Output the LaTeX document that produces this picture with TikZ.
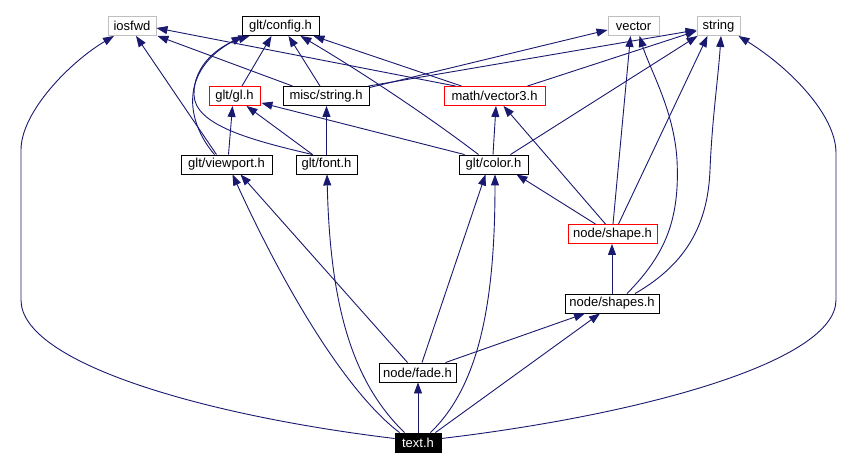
\documentclass[tikz,border=0pt]{standalone}
\usepackage{fontspec}
\setmainfont{Liberation Sans}
\usetikzlibrary{arrows.meta,calc}
\definecolor{edgeblue}{HTML}{191970}
\definecolor{grayline}{HTML}{BFBFBF}
\begin{document}
\begin{tikzpicture}[x=1pt,y=-1pt,
  fbox/.style={draw=black, line width=0.9pt, rectangle, inner sep=0pt, minimum height=19pt,
    font=\fontsize{13pt}{15pt}\selectfont, fill=white},
  sysbox/.style={fbox, draw=grayline},
  redbox/.style={fbox, draw=red},
  curbox/.style={fbox, fill=black, text=white},
  edge/.style={draw=edgeblue, line width=0.9pt, -{Triangle[length=11pt,width=8pt]}}]
\fill[white] (0,0) rectangle (854,470);
\useasboundingbox (0,0) rectangle (854,470);
% nodes
\node[sysbox, minimum width=48pt] (iosfwd) at (132,26) {iosfwd};
\node[fbox, minimum width=77pt] (config) at (280.5,26) {glt/config.h};
\node[sysbox, minimum width=51pt] (vector) at (633.5,26) {vector};
\node[sysbox, minimum width=43pt] (string) at (718.5,26) {string};
\node[redbox, minimum width=51pt] (gl) at (234.5,96) {glt/gl.h};
\node[fbox, minimum width=86pt] (miscstring) at (326,96) {misc/string.h};
\node[redbox, minimum width=101pt] (vector3) at (494.5,96) {math/vector3.h};
\node[fbox, minimum width=91pt] (viewport) at (226.5,164.5) {glt/viewport.h};
\node[fbox, minimum width=61pt] (font) at (326.5,164.5) {glt/font.h};
\node[fbox, minimum width=69pt] (color) at (493.5,164.5) {glt/color.h};
\node[redbox, minimum width=89pt] (shape) at (612.5,234) {node/shape.h};
\node[fbox, minimum width=94pt] (shapes) at (612,303.5) {node/shapes.h};
\node[fbox, minimum width=77pt] (fade) at (417.5,372.5) {node/fade.h};
\node[curbox, minimum width=46pt] (text) at (418,442.5) {text.h};
% text.h
\draw[edge] ($(text.west)+(0,-4)$) .. controls (200,415) and (21,362) .. (21,300) -- (21,150) .. controls (21,112) and (70,62) .. ($(iosfwd.south)+(-18,0)$);
\draw[edge] ($(text.east)+(0,-4)$) .. controls (640,415) and (836,362) .. (836,300) -- (836,153) .. controls (836,115) and (790,68) .. ($(string.south)+(20,0)$);
\draw[edge] ($(text.north west)+(5,0)$) .. controls (350,395) and (290,300) .. ($(viewport.south)+(6,0)$);
\draw[edge] ($(text.north west)+(10,0)$) .. controls (350,380) and (330,300) .. ($(font.south)+(0.5,0)$);
\draw[edge] (text.north) -- (text.north |- fade.south);
\draw[edge] ($(text.north east)+(-11,0)$) .. controls (480,385) and (495,300) .. ($(color.south)+(1.5,0)$);
\draw[edge] ($(text.north east)+(-6,0)$) -- ($(shapes.south)+(-12,0)$);
% node/fade.h
\draw[edge] ($(fade.north west)+(29,0)$) -- ($(viewport.south)+(14,0)$);
\draw[edge] ($(fade.north)+(4.5,0)$) -- ($(color.south)+(-8,0)$);
\draw[edge] ($(fade.north east)+(-11,0)$) -- ($(shapes.south)+(-27,0)$);
% node/shapes.h
\draw[edge] (shapes.north) -- (shapes.north |- shape.south);
\draw[edge] ($(shapes.north)+(15,0)$) .. controls (665,255) and (680,220) .. (677,160) .. controls (674,110) and (650,70) .. ($(vector.south)+(6,0)$);
\draw[edge] ($(shapes.north)+(23,0)$) .. controls (690,262) and (708,220) .. (710,170) .. controls (712,120) and (718,80) .. ($(string.south)+(2.5,0)$);
% node/shape.h
\draw[edge] ($(shape.north)+(-17,0)$) -- ($(color.south east)+(-12,0)$);
\draw[edge] ($(shape.north)+(-7,0)$) -- ($(vector3.south)+(9,0)$);
\draw[edge] ($(shape.north)+(0.5,0)$) -- ($(vector.south)+(-3,0)$);
\draw[edge] ($(shape.north)+(6,0)$) -- ($(string.south)+(-11,0)$);
% glt/color.h
\draw[edge] ($(color.north)+(-0.5,0)$) -- ($(vector3.south)+(1.5,0)$);
\draw[edge] ($(color.north west)+(6,0)$) -- ($(gl.south east)+(1,-3)$);
\draw[edge] ($(color.north)+(-15,0)$) .. controls (420,110) and (350,65) .. ($(config.south east)+(-19,0)$);
\draw[edge] ($(color.north east)+(-18,0)$) -- ($(string.south west)+(1,0)$);
% glt/viewport.h
\draw[edge] ($(viewport.north)+(2,0)$) -- ($(gl.south)+(-2,0)$);
\draw[edge] ($(viewport.north)+(-12,0)$) .. controls (185,120) and (180,70) .. ($(config.south west)+(1,0)$);
\draw[edge] ($(viewport.north)+(-10,0)$) -- ($(iosfwd.south)+(4,0)$);
% glt/font.h
\draw[edge] (font.north) -- (font.north |- miscstring.south);
\draw[edge] ($(font.north west)+(17,0)$) -- ($(gl.south)+(12,0)$);
\draw[edge] ($(font.north west)+(17,0)$) .. controls (250,140) and (195,125) .. (194,95) .. controls (193,65) and (220,45) .. ($(config.south west)+(8,0)$);
% glt/gl.h
\draw[edge] ($(gl.north)+(7.5,0)$) -- ($(config.south)+(-9,0)$);
% misc/string.h
\draw[edge] ($(miscstring.north)+(-6,0)$) -- ($(config.south)+(8,0)$);
\draw[edge] ($(miscstring.north west)+(10,0)$) -- ($(iosfwd.south east)+(1,0)$);
\draw[edge] ($(miscstring.north east)+(0,1.5)$) -- ($(vector.west)+(0,4)$);
\draw[edge] ($(miscstring.north east)+(-1,0)$) -- ($(string.west)+(0,4)$);
% math/vector3.h
\draw[edge] ($(vector3.north west)+(18,0)$) -- ($(config.south east)+(-6,0)$);
\draw[edge] ($(vector3.north west)+(12,0)$) -- ($(iosfwd.east)+(0,2)$);
\draw[edge] ($(vector3.north east)+(-18,0)$) -- ($(string.west)+(0,5)$);
\end{tikzpicture}
\end{document}
